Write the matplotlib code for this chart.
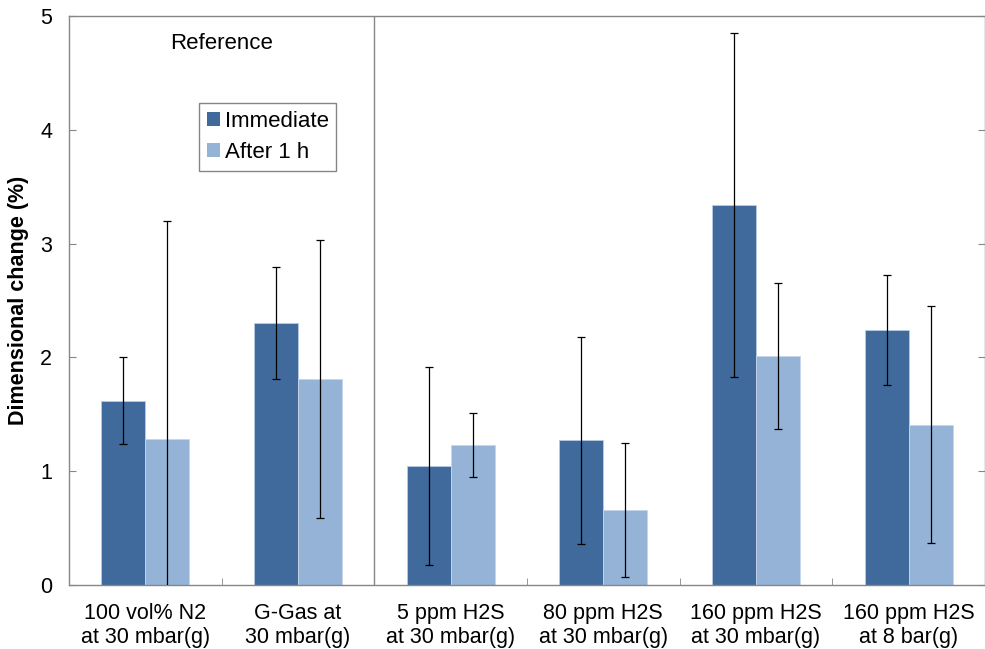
import matplotlib
matplotlib.use("Agg")
import matplotlib.pyplot as plt
from matplotlib.patches import Patch
import numpy as np

plt.rcParams['font.family'] = ['Liberation Sans', 'DejaVu Sans']

categories = [
    "100 vol% N2\nat 30 mbar(g)",
    "G-Gas at\n30 mbar(g)",
    "5 ppm H2S\nat 30 mbar(g)",
    "80 ppm H2S\nat 30 mbar(g)",
    "160 ppm H2S\nat 30 mbar(g)",
    "160 ppm H2S\nat 8 bar(g)",
]
immediate = [1.62, 2.30, 1.05, 1.27, 3.34, 2.24]
immediate_err = [0.38, 0.49, 0.87, 0.91, 1.51, 0.48]
after_1h = [1.28, 1.81, 1.23, 0.66, 2.01, 1.41]
after_1h_err = [1.92, 1.22, 0.28, 0.59, 0.64, 1.04]

dark = "#416A9C"
light = "#95B3D7"
spine_col = "#868686"

fig = plt.figure(figsize=(9.85, 6.49), dpi=100)
ax = fig.add_axes([69 / 985, 64 / 649, 916 / 985, 569 / 649])

x = np.arange(len(categories))
w = 0.288
ax.bar(x - w / 2, immediate, w, color=dark, edgecolor="#B9CDE5", linewidth=0.6, zorder=2)
ax.bar(x + w / 2, after_1h, w, color=light, edgecolor="#C6D6EA", linewidth=0.6, zorder=2)
ax.errorbar(x - w / 2, immediate, yerr=immediate_err, fmt="none", ecolor="black",
            elinewidth=0.9, capsize=3, capthick=0.9, zorder=3)
ax.errorbar(x + w / 2, after_1h, yerr=after_1h_err, fmt="none", ecolor="black",
            elinewidth=0.9, capsize=3, capthick=0.9, zorder=3)

# divider between the reference gases and the H2S tests
ax.axvline(1.5, color=spine_col, linewidth=1.0, zorder=1)
ax.text(0.5, 4.76, "Reference", ha="center", va="center", fontsize=16)

ax.set_xlim(-0.5, len(categories) - 0.5)
ax.set_ylim(0, 5)
ax.set_yticks(range(6))
ax.set_xticks(x)
ax.set_xticklabels(categories, fontsize=15.5)
ax.set_xticks(np.arange(-0.5, len(categories)), minor=True)
ax.tick_params(axis="x", which="major", length=0, pad=13)
ax.tick_params(axis="x", which="minor", direction="in", length=5, color=spine_col)
ax.tick_params(axis="y", direction="in", length=5, color=spine_col, labelsize=15.5,
               pad=12, right=True)
for s in ax.spines.values():
    s.set_color(spine_col)
    s.set_linewidth(1.0)

ax.set_ylabel("Dimensional change (%)", fontsize=15.5, fontweight="bold", labelpad=8)

handles = [Patch(facecolor=dark, edgecolor="none"), Patch(facecolor=light, edgecolor="none")]
leg = fig.legend(handles, ["Immediate", "After 1 h"], loc="upper left",
                 bbox_to_anchor=(199 / 985, 1 - 103 / 649), fontsize=16,
                 handlelength=0.6, handleheight=0.6, handletextpad=0.2,
                 borderpad=0.35, labelspacing=0.45, borderaxespad=0,
                 fancybox=False, framealpha=1)
leg.get_frame().set_edgecolor(spine_col)
leg.get_frame().set_linewidth(1.0)

fig.savefig("out.png", dpi=100)
